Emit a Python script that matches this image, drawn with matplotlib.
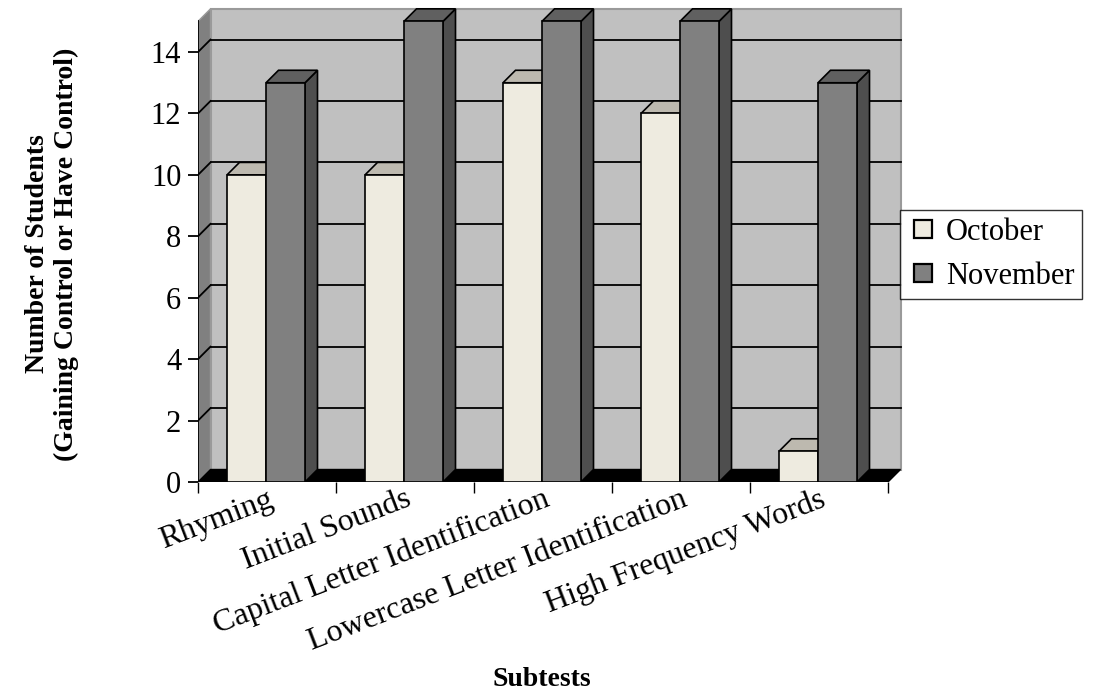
import matplotlib
matplotlib.use("Agg")
import matplotlib.pyplot as plt
from matplotlib.patches import Polygon
from matplotlib.lines import Line2D

categories = ["Rhyming", "Initial Sounds", "Capital Letter Identification",
              "Lowercase Letter Identification", "High Frequency Words"]
october = [10, 10, 13, 12, 1]
november = [13, 15, 15, 15, 13]
series_names = ["October", "November"]
y_ticks = [0, 2, 4, 6, 8, 10, 12, 14]
y_max = 15

plt.rcParams["font.family"] = ["Liberation Serif", "DejaVu Serif"]
FS = 22

W, H = 1097, 696
fig = plt.figure(figsize=(W / 100, H / 100), dpi=100)

# plot region in pixels: front plane from x=198, baseline at y=482
px_left, px_right, px_base, px_top = 198, 910, 482, 5
px_per_cat = 138.0
px_per_unit = 30.71
ax = fig.add_axes([px_left / W, (H - px_base) / H,
                   (px_right - px_left) / W, (px_base - px_top) / H])
ax.set_xlim(0, (px_right - px_left) / px_per_cat)
ax.set_ylim(0, (px_base - px_top) / px_per_unit)
for s in ax.spines.values():
    s.set_visible(False)

# depth offset of the 3-D effect, in data units
depth_px = 12.5
dx = depth_px / px_per_cat
dy = depth_px / px_per_unit
n = len(categories)

def poly(pts, fc, ec="black", lw=1.2, z=1):
    ax.add_patch(Polygon(pts, closed=True, facecolor=fc, edgecolor=ec,
                         linewidth=lw, zorder=z, joinstyle="miter"))

# walls and floor
poly([(dx, dy), (n + dx, dy), (n + dx, y_max + dy), (dx, y_max + dy)],
     "#c0c0c0", ec="#9a9a9a", lw=1.5, z=1)
poly([(0, 0), (dx, dy), (dx, y_max + dy), (0, y_max)], "#808080",
     ec="#9a9a9a", lw=1.0, z=1)
poly([(0, 0), (n, 0), (n + dx, dy), (dx, dy)], "black", lw=1.0, z=2)

# gridlines on back and side walls
for t in y_ticks[1:]:
    ax.plot([dx, n + dx], [t + dy, t + dy], color="black", lw=1.3, zorder=1.5)
    ax.plot([0, dx], [t, t + dy], color="black", lw=1.3, zorder=1.5)

# front value axis line
ax.plot([0, 0], [0, y_max], color="black", lw=1.3, zorder=3)

# 3-D columns
gap = 29 / px_per_cat
bw = 39 / px_per_cat
faces = [("#eeebe0", "#bdb9af", "#a9a69c"),
         ("#808080", "#606060", "#4e4e4e")]
for i in range(n):
    for k, vals in enumerate([october, november]):
        v = vals[i]
        x0 = i + gap + k * bw
        x1 = x0 + bw
        fc, tc, sc = faces[k]
        z = 3 + k
        poly([(x1, 0), (x1 + dx, dy), (x1 + dx, v + dy), (x1, v)], sc, z=z)
        poly([(x0, v), (x1, v), (x1 + dx, v + dy), (x0 + dx, v + dy)], tc, z=z)
        poly([(x0, 0), (x1, 0), (x1, v), (x0, v)], fc, z=z)

# ticks
ax.set_yticks(y_ticks)
ax.set_yticklabels([str(t) for t in y_ticks], fontsize=FS)
ax.tick_params(axis="y", direction="out", length=7, width=1.3, pad=5)
ax.set_xticks([i + 0.5 for i in range(n)])
ax.set_xticklabels(categories, fontsize=23, rotation=21, ha="right",
                   rotation_mode="anchor")
ax.tick_params(axis="x", which="major", length=0, pad=2)
ax.set_xticks(range(n + 1), minor=True)
ax.tick_params(axis="x", which="minor", direction="out", length=8, width=1.0)

fig.text(52 / W, 1 - 254 / H,
         "Number of Students\n(Gaining Control or Have Control)",
         rotation=90, ha="center", va="center", fontsize=20,
         fontweight="bold", linespacing=1.25)
fig.text(542 / W, 1 - 680 / H, "Subtests", ha="center", va="center",
         fontsize=20, fontweight="bold")

handles = [Line2D([], [], linestyle="none", marker="s", markersize=13,
                  markerfacecolor=faces[k][0], markeredgecolor="black",
                  markeredgewidth=1.6)
           for k in range(2)]
leg = fig.legend(handles, series_names, loc="upper left",
                 bbox_to_anchor=(900 / W, 1 - 210 / H), fontsize=FS,
                 frameon=True, fancybox=False, edgecolor="black",
                 handlelength=1.0, handletextpad=0.25,
                 borderpad=0.25, labelspacing=0.5, borderaxespad=0)
leg.get_frame().set_linewidth(1.0)

fig.savefig("out.png", dpi=100)
